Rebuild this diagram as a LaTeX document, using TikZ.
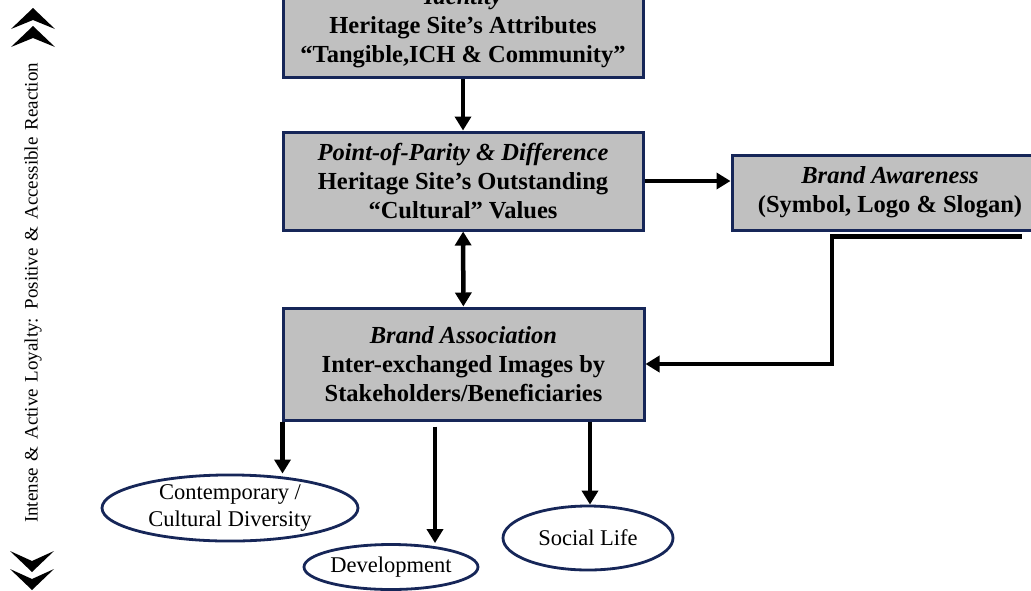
\documentclass[tikz,border=0pt]{standalone}
\usepackage{fontspec}
\setmainfont{Liberation Serif}
\usetikzlibrary{shapes.geometric,arrows.meta}
\definecolor{navy}{RGB}{22,38,88}
\definecolor{boxgray}{RGB}{192,192,192}
\begin{document}
\begin{tikzpicture}[x=1pt,y=-1pt,
  box/.style={draw=navy,line width=3pt,fill=boxgray,align=center,inner sep=0pt,font=\fontsize{24.5}{29}\selectfont\bfseries},
  oval/.style={ellipse,draw=navy,line width=2.8pt,fill=white,align=center,inner sep=0pt,font=\fontsize{22.5}{27}\selectfont},
  conn/.style={line width=4.5pt,-{Triangle[length=14pt,width=16pt]}},
  chev/.style={fill=black,draw=none},
]
\useasboundingbox (0,0) rectangle (1031,590);
\clip (0,0) rectangle (1031,590);
\fill[white] (0,0) rectangle (1031,590);

% boxes
\node[box,minimum width=360pt,minimum height=98pt] (id) at (463,28)
  {{\itshape Identity}\\Heritage Site’s Attributes\\“Tangible,ICH \& Community”};
\node[box,minimum width=360pt,minimum height=98pt] (ppd) at (463,181)
  {{\itshape Point-of-Parity \& Difference}\\Heritage Site’s Outstanding\\“Cultural” Values};
\node[box,minimum width=316pt,minimum height=75pt] (aw) at (890,192.5)
  {{\itshape Brand Awareness}\\(Symbol, Logo \& Slogan)};
\node[box,minimum width=361pt,minimum height=112pt] (assoc) at (463.5,364)
  {{\itshape Brand Association}\\Inter-exchanged Images by\\Stakeholders/Beneficiaries};

% ellipses
\node[oval,minimum width=256pt,minimum height=64pt] (e1) at (230,508) {Contemporary /\\Cultural Diversity};
\node[oval,minimum width=174pt,minimum height=45pt] (e2) at (391,567) {Development};
\node[oval,minimum width=170pt,minimum height=64pt] (e3) at (588,538) {Social Life};

% connectors
\draw[conn] (id) -- (ppd);
\draw[conn] (ppd.east) -- (ppd.east -| aw.west);
\draw[line width=4.5pt,{Triangle[length=14pt,width=16pt]}-{Triangle[length=14pt,width=16pt]}] (ppd) -- (assoc);
\draw[conn] ([xshift=-28pt,yshift=-5pt]aw.south east) -- ([xshift=-58pt,yshift=-5pt]aw.south) |- (assoc.east);
\draw[conn] ([xshift=1pt]assoc.south west) -- ([xshift=1pt]assoc.south west |- e1.north);
\draw[conn] ([xshift=-28.5pt,yshift=-5pt]assoc.south) -- ([xshift=-28.5pt]assoc.south |- e2.north);
\draw[conn] ([xshift=126.5pt]assoc.south) -- ([xshift=126.5pt]assoc.south |- e3.north);

% side annotation
\node[rotate=90,font=\fontsize{19}{21}\selectfont,inner sep=0pt] (loyal) at (33,293)
  {\spaceskip=0.36em Intense \& Active Loyalty: Positive \& Accessible Reaction};
\fill[chev] (11,29) -- (33,8) -- (55,29) -- (33,20) -- cycle;
\fill[chev] (11,47) -- (33,26) -- (55,47) -- (33,38) -- cycle;
\fill[chev] (10,551) -- (32,572) -- (54,551) -- (32,561) -- cycle;
\fill[chev] (10,569) -- (32,590) -- (54,569) -- (32,579) -- cycle;
\end{tikzpicture}
\end{document}
